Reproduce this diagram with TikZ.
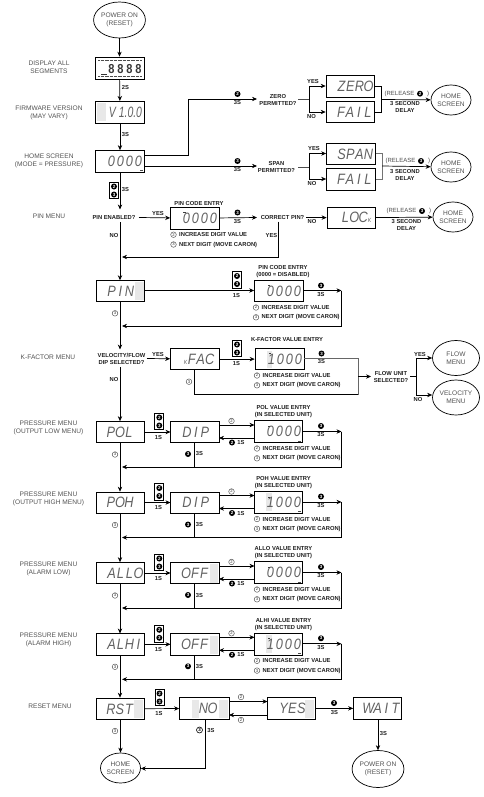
\documentclass[tikz,border=0pt]{standalone}
\usepackage{fontspec}
\setmainfont{Liberation Sans}
\newfontfamily\lcdf[FakeStretch=.85]{Liberation Sans}
\usetikzlibrary{arrows.meta,shapes.geometric}
\colorlet{labgray}{black!68}
\colorlet{lcdgray}{black!62}
\def\lcs#1{\lcsloop#1\relax}
\def\lcsloop#1{\ifx#1\relax\else\makebox[9pt]{#1}\expandafter\lcsloop\fi}
\tikzset{
  lab/.style={font=\fontsize{6.6}{7.9}\selectfont,text=labgray,align=center,inner sep=0pt},
  blab/.style={font=\fontsize{5.8}{7}\selectfont\bfseries,text=black!88,align=center,inner sep=0pt},
  rlab/.style={font=\fontsize{6}{7}\selectfont,text=black!70,inner sep=0pt},
  lcdbox/.style={draw=black,line width=.7pt,inner sep=0pt},
  lcdtext/.style={font=\lcdf\itshape\fontsize{15}{15}\selectfont,text=lcdgray,inner sep=0pt},
  oval/.style={ellipse,draw=black,line width=.7pt,fill=white,inner sep=0pt,font=\fontsize{6.6}{7.9}\selectfont,text=labgray,align=center},
  conn/.style={draw=black,line width=.7pt},
  arr/.style={conn,-{Stealth[length=5pt,width=4.4pt]}},
  fbtn/.style={circle,fill=black,text=white,inner sep=0pt,minimum size=6pt,font=\fontsize{4.5}{4.5}\selectfont\bfseries},
  obtn/.style={circle,draw=black!70,line width=.45pt,fill=white,text=black!80,inner sep=0pt,minimum size=5.6pt,font=\fontsize{4.2}{4.2}\selectfont},
  pairbox/.style={draw=black,line width=.8pt,fill=white,inner sep=0pt,minimum width=9pt,minimum height=16.5pt}
}
% box: name, x1, y1, x2, y2, text, text centre x
\newcommand{\lcdd}[7]{%
  \node[lcdbox,minimum width=#4pt-#2pt,minimum height=#5pt-#3pt] (#1) at ({(#2+#4)/2},{(#3+#5)/2}) {};
  \node[lcdtext] (#1-t) at (#7,{(#3+#5)/2}) {#6};
}
\newcommand{\ptch}[4]{\fill[black!9] (#1,#3) rectangle (#2,#4);}
% two-button marker: name, centre x, centre y
\newcommand{\pairb}[3]{%
  \node[pairbox] (#1) at (#2,#3) {};
  \node[fbtn] (#1-a) at (#2,#3-4) {2};
  \node[fbtn] (#1-b) at (#2,#3+4) {3};
}
\newcommand{\caronm}[2]{\fill[black!75] (#1-1.2,#2) rectangle (#1+1.2,#2+.9);}
\newcommand{\digitlines}[3]{%
  \node[obtn] (#1-ci) at (#2,#3) {2};
  \node[blab,anchor=west] (#1-inc) at (#2+5.5,#3) {INCREASE DIGIT VALUE};
  \node[obtn] (#1-cn) at (#2,#3+9.8) {3};
  \node[blab,anchor=west] (#1-nxt) at (#2+5.5,#3+9.8) {NEXT DIGIT (MOVE CARON)};
}
% menu row: id, dy, left label, menu text, text x, sub text, sub x, entry label, value
\newcommand{\menurow}[9]{%
\begin{scope}[shift={(0,#2)}]
  \node[lab] (#1-lab) at (48.5,428) {#3};
  \lcdd{#1}{96}{421.5}{144.5}{442.7}{\lcs{#4}}{#5}
  \lcdd{#1-sub}{170.5}{421.5}{219}{442.7}{\lcs{#6}}{#7}
  \lcdd{#1-ent}{254.5}{420.7}{302.5}{442.7}{\lcs{#9}}{284}
  \caronm{269}{426}
  \fill[black!70] (298,440.6) rectangle (301,441.5);
  \pairb{#1-p}{159.3}{421.5}
  \node[blab] (#1-1s) at (158.5,437.3) {1S};
  \node[obtn] (#1-up) at (231.5,421) {2};
  \node[fbtn] (#1-dn) at (232,442.5) {2};
  \node[blab] (#1-dns) at (241,442.5) {1S};
  \node[blab] (#1-ttl) at (283.5,412) {#8\\(IN SELECTED UNIT)};
  \node[fbtn] (#1-x) at (321,426) {3};
  \node[blab] (#1-xs) at (321,435) {3S};
  \node[fbtn] (#1-b3) at (188,454) {3};
  \node[blab] (#1-b3s) at (199.5,454) {3S};
  \node[obtn] (#1-adv) at (115,454.5) {3};
  \digitlines{#1-d}{257}{448.5}
  \coordinate (#1-ru) at (219,425);
  \coordinate (#1-eu) at (254.5,425);
  \coordinate (#1-rd) at (254.5,438);
  \coordinate (#1-ed) at (219,438);
  \coordinate (#1-o1) at (302.5,431.5);
  \coordinate (#1-o2) at (341.5,431.5);
  \coordinate (#1-o3) at (341.5,467);
  \coordinate (#1-j) at (194.75,467);
  \coordinate (#1-r) at (122,467);
  \coordinate (#1-in) at (170.5,432);
  \coordinate (#1-out) at (144.5,432);
  \draw[arr] (#1-out) -- (#1-in);
  \draw[arr] (#1-ru) -- (#1-eu);
  \draw[arr] (#1-rd) -- (#1-ed);
  \draw[arr] (#1-o1) -- (#1-o2);
  \draw[conn] (#1-o2) -- (#1-o3);
  \draw[arr] (#1-o3) -- (#1-r);
  \draw[conn] (#1-sub.south) -- (#1-j);
\end{scope}
}
\begin{document}
\begin{tikzpicture}[x=1pt,y=-1pt]
\useasboundingbox (0,0) rectangle (483,797);

% ---------- faint display patches
\ptch{97}{106}{103}{121}
\ptch{135}{143.5}{282}{300}
\ptch{267}{272}{351}{368}
\ptch{266}{272}{493}{511}
\ptch{266}{272}{635}{653}
\ptch{209.5}{217.5}{564}{583}
\ptch{209.5}{217.5}{635.5}{654}
\ptch{192}{199}{699.5}{717.5}
\ptch{218.5}{227.5}{699.5}{717.5}
\ptch{134}{143}{700}{718}
\ptch{305}{314}{699.5}{717.5}

% ---------- left labels
\node[lab] (l1) at (49,67.5) {DISPLAY ALL\\SEGMENTS};
\node[lab] (l2) at (49,113) {FIRMWARE VERSION\\(MAY VARY)};
\node[lab] (l3) at (49,161) {HOME SCREEN\\(MODE = PRESSURE)};
\node[lab] (l4) at (49,216) {PIN MENU};
\node[lab] (l5) at (48,357) {K-FACTOR MENU};
\node[lab] (l6) at (50,706) {RESET MENU};

% ---------- top column
\node[oval,minimum width=49pt,minimum height=36pt] (power) at (119.5,20) {POWER ON\\(RESET)};
\node[lcdbox,minimum width=49pt,minimum height=22pt] (segs) at (119.5,68) {};
\node[lcdtext,font=\lcdf\bfseries\fontsize{13}{13}\selectfont,text=black!78] (segs-t) at (125,69) {\lcs{8888}};
\draw[black!70,line width=.9pt,dash pattern=on .8pt off .5pt] (98,60) -- (142,60);
\draw[black!70,line width=.9pt,dash pattern=on .8pt off .5pt] (98,76.5) -- (142,76.5);
\draw[black!80,line width=.8pt] (101,74) -- (107,74);
\lcdd{fw}{95.5}{101.3}{144.5}{123.3}{\scalebox{.82}[1]{V 1.0.0}}{125.5}
\lcdd{home}{95.5}{150.5}{144.5}{172.3}{\lcs{0000}}{125}
\fill[black!70] (139.5,169.5) rectangle (142.5,170.4);
\node[blab] (s2) at (125.5,88) {2S};
\node[blab] (s3) at (125.5,135) {3S};
\pairb{hp}{114}{190.5}
\node[blab] (s4) at (125.5,190) {3S};
\draw[arr] (power) -- (segs);
\draw[arr] (segs) -- (fw);
\draw[arr] (fw) -- (home);

% ---------- zero
\node[fbtn] (zb) at (237.5,94) {2};
\node[blab] (zs) at (237.5,103) {3S};
\node[blab] (zq) at (278,99.5) {ZERO\\PERMITTED?};
\node[blab] (zy) at (313,81.7) {YES};
\node[blab] (zn) at (311.5,116.5) {NO};
\lcdd{zero}{326}{75.5}{374.5}{97.5}{\lcs{ZERO}}{355}
\lcdd{zfail}{326}{101.5}{374.5}{122.5}{\lcs{FAIL}}{354.5}
\node[oval,minimum width=40pt,minimum height=30pt] (zhome) at (451,100) {HOME\\SCREEN};
\node[rlab] (zr) at (399.5,93.7) {(RELEASE};
\node[fbtn] (zrb) at (420,93.7) {2};
\node[rlab] (zr2) at (428,93.7) {)};
\node[blab] (zd) at (405,107.3) {3 SECOND\\DELAY};
\coordinate (z1) at (188.5,155);
\coordinate (z2) at (188.5,99);
\coordinate (z3) at (257,99);
\coordinate (z4) at (298,99.5);
\coordinate (z5) at (309,99.5);
\coordinate (z6) at (309,86);
\coordinate (z7) at (309,112);
\coordinate (z8) at (381,86);
\coordinate (z9) at (381,112);
\coordinate (z10) at (381,99.5);
\coordinate (hz) at (144.5,155);
\draw[arr] (hz) -- (z1) -- (z2) -- (z3);
\draw[conn,black!70] (z4) -- (z5);
\draw[arr] (z5) -- (z6) -- (zero.west |- z6);
\draw[arr] (z5) -- (z7) -- (zfail.west |- z7);
\draw[conn] (zero.east |- z8) -- (z8) -- (z9) -- (zfail.east |- z9);
\draw[arr] (z10) -- (zhome);

% ---------- span
\node[fbtn] (sb) at (237.5,161) {3};
\node[blab] (ss) at (237.5,170) {3S};
\node[blab] (sq) at (276.5,166.5) {SPAN\\PERMITTED?};
\node[blab] (sy) at (314,149) {YES};
\node[blab] (sn) at (312,184) {NO};
\lcdd{span}{326.5}{143.5}{375.5}{164.5}{\lcs{SPAN}}{355}
\lcdd{sfail}{326.5}{168.5}{375.5}{190}{\lcs{FAIL}}{354.5}
\node[oval,minimum width=40pt,minimum height=30pt] (shome) at (451,167) {HOME\\SCREEN};
\node[rlab] (sr) at (400.5,161) {(RELEASE};
\node[fbtn] (srb) at (421,161) {3};
\node[rlab] (sr2) at (429,161) {)};
\node[blab] (sd) at (405,174.5) {3 SECOND\\DELAY};
\coordinate (s1) at (257,166);
\coordinate (s4p) at (298,167);
\coordinate (s5) at (309,167);
\coordinate (s6) at (309,153.5);
\coordinate (s7) at (309,179);
\coordinate (s8) at (382,153.5);
\coordinate (s9) at (382,179);
\coordinate (s10) at (382,166);
\coordinate (hs) at (144.5,166);
\draw[arr] (hs) -- (s1);
\draw[conn,black!70] (s4p) -- (s5);
\draw[arr] (s5) -- (s6) -- (span.west |- s6);
\draw[arr] (s5) -- (s7) -- (sfail.west |- s7);
\draw[conn,black!55] (span.east |- s8) -- (s8) -- (s9) -- (sfail.east |- s9);
\draw[arr] (s10) -- (shome);

% ---------- PIN enabled row
\node[blab] (pe) at (114,217.5) {PIN ENABLED?};
\node[blab] (py) at (158,214) {YES};
\node[blab] (pn) at (114,235.5) {NO};
\lcdd{pine}{170.5}{207.5}{219.5}{229}{\lcs{0000}}{200}
\caronm{184.5}{212}
\node[blab] (pct) at (199,203.5) {PIN CODE ENTRY};
\node[fbtn] (pb) at (237.5,212.5) {3};
\node[blab] (ps) at (237.5,222) {3S};
\node[blab] (cq) at (282.5,217.5) {CORRECT PIN?};
\node[blab] (cn) at (312,222) {NO};
\node[blab] (cy) at (271.5,236) {YES};
\lcdd{lock}{327}{207}{375.5}{228.5}{\lcs{LOC}{\fontsize{6}{6}\selectfont K}}{356}
\node[oval,minimum width=40pt,minimum height=30pt] (phome) at (453,217) {HOME\\SCREEN};
\node[rlab] (lr) at (401.5,211) {(RELEASE};
\node[fbtn] (lrb) at (422,211) {3};
\node[rlab] (lr2) at (430,211) {)};
\node[blab] (ld) at (406.5,224.5) {3 SECOND\\DELAY};
\digitlines{pd}{173.5}{234.7}
\coordinate (pa) at (139,217.5);
\coordinate (pc) at (257,217.5);
\coordinate (pd1) at (306,217.5);
\coordinate (pd2) at (278.5,221.5);
\coordinate (pd3) at (278.5,257);
\coordinate (pd4) at (122,257);
\coordinate (pt) at (120,209.5);
\coordinate (pu) at (120,222);
\coordinate (hd) at (120,172.3);
\draw[arr] (hd) -- (pt);
\draw[arr] (pa) -- (pine);
\draw[arr] (pine) -- (pc);
\draw[arr] (pd1) -- (lock);
\draw[arr] (lock) -- (phome);
\draw[arr] (pd2) -- (pd3) -- (pd4);

% ---------- PIN
\lcdd{pin}{96}{280.3}{144.5}{301.4}{\lcs{PIN}}{120.5}
\coordinate (pu2) at (120,280.3);
\draw[arr] (pu) -- (pu2);
\lcdd{pine2}{254.5}{280.3}{303.5}{301.4}{\lcs{0000}}{284}
\caronm{269}{284.5}
\pairb{pp}{237}{280}
\node[blab] (p1s) at (236.5,295.5) {1S};
\node[blab] (p2t) at (283,271.3) {PIN CODE ENTRY\\(0000 = DISABLED)};
\node[fbtn] (p2b) at (321,285.5) {3};
\node[blab] (p2s) at (321,294.5) {3S};
\node[obtn] (padv) at (115,313.3) {3};
\digitlines{p2d}{256}{307.5}
\coordinate (p1) at (341.5,290.5);
\coordinate (p2) at (341.5,326);
\coordinate (p3) at (122,326);
\coordinate (p4) at (120,349.5);
\draw[arr] (pin.east |- p1) -- (pine2.west |- p1);
\draw[arr] (pine2.east |- p1) -- (p1);
\draw[conn] (p1) -- (p2);
\draw[arr] (p2) -- (p3);
\draw[arr] (pin.south -| p4) -- (p4);

% ---------- K-factor
\node[blab] (vq) at (121.5,358.5) {VELOCITY/FLOW\\DIP SELECTED?};
\node[blab] (vy) at (158,355) {YES};
\node[blab] (vn) at (114,379.5) {NO};
\lcdd{kfac}{170.5}{348.5}{219.5}{369.7}{{\fontsize{6}{6}\selectfont K}\lcs{FAC}}{199}
\lcdd{kent}{255}{348.5}{304}{369.7}{\lcs{1000}}{285}
\caronm{270}{352.5}
\pairb{kp}{237}{348.5}
\node[blab] (k1s) at (236.5,363) {1S};
\node[blab] (kt) at (287,339.5) {K-FACTOR VALUE ENTRY};
\node[fbtn] (kb) at (321.5,353.5) {3};
\node[blab] (ks) at (321.5,362) {3S};
\node[obtn] (kadv) at (189,381.7) {3};
\digitlines{kd}{257}{375.5}
\node[blab] (fq) at (391,376.5) {FLOW UNIT\\SELECTED?};
\node[blab] (fy) at (420,354.5) {YES};
\node[blab] (fn) at (418,399) {NO};
\node[oval,minimum width=47pt,minimum height=35pt] (flow) at (456,358) {FLOW\\MENU};
\node[oval,minimum width=47pt,minimum height=35pt] (vel) at (456,397.5) {VELOCITY\\MENU};
\coordinate (k0) at (147,358.5);
\coordinate (k1) at (358,358.5);
\coordinate (k2) at (358,394.5);
\coordinate (k3) at (194.75,394.5);
\coordinate (k4) at (358,376.5);
\coordinate (k5) at (371,376.5);
\coordinate (k6) at (410,376.5);
\coordinate (k7) at (416,376.5);
\coordinate (k8) at (416,358);
\coordinate (k9) at (416,395);
\draw[arr] (k0) -- (kfac);
\draw[arr] (kfac) -- (kent);
\draw[conn,black!60] (kent.east |- k1) -- (k1) -- (k2);
\draw[conn] (k2) -- (k3) -- (kfac.south -| k3);
\draw[arr] (k4) -- (k5);
\draw[conn] (k6) -- (k7);
\draw[arr] (k7) -- (k8) -- (flow.west |- k8);
\draw[arr] (k7) -- (k9) -- (vel.west |- k9);

% ---------- pressure rows
\menurow{pol}{0}{PRESSURE MENU\\(OUTPUT LOW MENU)}{POL}{120}{DIP}{196}{POL VALUE ENTRY}{0000}
\menurow{poh}{70.5}{PRESSURE MENU\\(OUTPUT HIGH MENU)}{POH}{120}{DIP}{196}{POH VALUE ENTRY}{1000}
\menurow{all}{141}{PRESSURE MENU\\(ALARM LOW)}{ALLO}{125}{OFF}{195}{ALLO VALUE ENTRY}{0000}
\menurow{alh}{212.3}{PRESSURE MENU\\(ALARM HIGH)}{ALHI}{125}{OFF}{195}{ALHI VALUE ENTRY}{1000}
\coordinate (vt) at (120,367);
\draw[arr] (vt) -- (vt |- pol.north);
\draw[arr] (pol.south -| vt) -- (vt |- poh.north);
\draw[arr] (poh.south -| vt) -- (vt |- all.north);
\draw[arr] (all.south -| vt) -- (vt |- alh.north);

% ---------- reset row
\lcdd{rst}{96}{698}{144.5}{719.7}{\lcs{RST}}{120}
\lcdd{no}{179.5}{697.7}{229}{719}{\lcs{NO}}{208}
\lcdd{yes}{267.5}{697.7}{315.5}{719}{\lcs{YES}}{292.5}
\lcdd{wait}{353.5}{697.7}{401.5}{719}{\lcs{WAIT}}{382}
\pairb{rp}{159.5}{697.5}
\node[blab] (r1s) at (159,713) {1S};
\node[obtn] (rup) at (241,697) {2};
\node[obtn] (rdn) at (241,720) {2};
\node[fbtn] (rb) at (334,703) {3};
\node[blab] (rs) at (334.5,712) {3S};
\node[blab] (ws) at (383.5,733) {3S};
\node[obtn] (radv) at (115,731) {3};
\node[fbtn,fill=white,draw=black,line width=.6pt,text=black] (nb) at (199.5,730) {3};
\node[blab] (ns) at (211,730) {3S};
\node[oval,minimum width=40pt,minimum height=30pt] (rhome) at (120.5,768) {HOME\\SCREEN};
\node[oval,minimum width=49pt,minimum height=37pt] (rpow) at (378,769) {POWER ON\\(RESET)};
\coordinate (r1) at (229,701.5);
\coordinate (r2) at (267.5,701.5);
\coordinate (r3) at (267.5,715);
\coordinate (r4) at (229,715);
\coordinate (r5) at (205.5,768.5);
\draw[arr] (alh.south -| vt) -- (vt |- rst.north);
\draw[arr] (rst) -- (no);
\draw[arr] (r1) -- (r2);
\draw[arr] (r3) -- (r4);
\draw[arr] (yes) -- (wait);
\draw[arr] (wait.south -| rpow) -- (rpow);
\draw[arr] (rst.south -| rhome) -- (rhome);
\draw[arr] (no.south -| r5) -- (r5) -- (rhome.east |- r5);
\end{tikzpicture}
\end{document}
